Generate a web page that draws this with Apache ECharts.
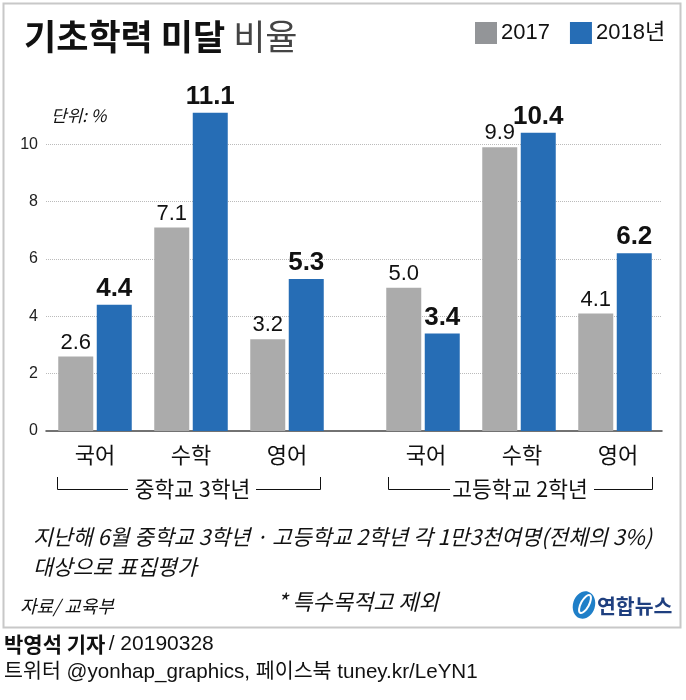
<!DOCTYPE html>
<html>
<head>
<meta charset="utf-8">
<style>
    html, body { margin: 0; padding: 0; background: #fff; }
    #chart { width: 686px; height: 700px; }
</style>
<script src="https://cdn.jsdelivr.net/npm/echarts@6/dist/echarts.min.js"></script>
</head>
<body>
<div id="chart"></div>
<script>
// 데이터
var subjects = ['국어', '수학', '영어'];
var middle2017 = [2.6, 7.1, 3.2];
var middle2018 = [4.4, 11.1, 5.3];
var high2017 = [5.0, 9.9, 4.1];
var high2018 = [3.4, 10.4, 6.2];
var name2017 = '2017';
var name2018 = '2018년';
var middleName = '중학교 3학년';
var highName = '고등학교 2학년';
var unitText = '단위: %';
var noteLine1 = '지난해 6월 중학교 3학년 · 고등학교 2학년 각 1만3천여명(전체의 3%)';
var noteLine2 = '대상으로 표집평가';
var sourceText = '자료/ 교육부';
var exceptText = '* 특수목적고 제외';
var logoText = '연합뉴스';

var KR = '"Noto Sans CJK KR"';
var NUM = '"Liberation Sans", ' + KR;
var gray = '#ababab';
var blue = '#266db5';

var myChart = echarts.init(document.getElementById('chart'));

// 막대 시리즈 (2017은 가는 글씨, 2018은 굵은 글씨)
function barSeries(name, data, idx, color, bold) {
    return {
        name: name,
        type: 'bar',
        xAxisIndex: idx,
        yAxisIndex: idx,
        data: data,
        barWidth: 35,
        barGap: '10%',
        itemStyle: { color: color },
        label: {
            show: true,
            position: 'top',
            distance: bold ? 3 : 3,
            formatter: function (p) { return p.value.toFixed(1); },
            fontFamily: NUM,
            fontSize: bold ? 26 : 22,
            fontWeight: bold ? 'bold' : 'normal',
            color: '#111'
        }
    };
}

function barYAxis(idx) {
    return {
        gridIndex: idx, type: 'value', min: 0, max: 12, interval: 2, show: false
    };
}

function barXAxis(idx, shift) {
    return {
        gridIndex: idx,
        type: 'category',
        data: subjects,
        axisLine: { show: false },
        axisTick: { show: false },
        axisLabel: {
            margin: 13,
            padding: [0, 0, 0, shift],
            fontFamily: KR,
            fontSize: 22,
            color: '#111'
        }
    };
}

// 묶음 괄호
function bracket(x1, x2, textX1, textX2) {
    return [
        {
            type: 'polyline',
            shape: { points: [[x1, 477], [x1, 489.5], [textX1, 489.5]] },
            style: { stroke: '#111', lineWidth: 1, fill: null }
        },
        {
            type: 'polyline',
            shape: { points: [[textX2, 489.5], [x2, 489.5], [x2, 477]] },
            style: { stroke: '#111', lineWidth: 1, fill: null }
        }
    ];
}

function txt(x, y, text, size, extra) {
    var s = {
        x: x, y: y, text: text,
        fontFamily: KR, fontSize: size, fill: '#111',
        textVerticalAlign: 'middle'
    };
    for (var k in extra) { s[k] = extra[k]; }
    return { type: 'text', style: s };
}

var graphics = [
    {
        type: 'rect',
        shape: { x: 3.5, y: 3.5, width: 677, height: 624 },
        style: { fill: null, stroke: '#c8c8c8', lineWidth: 2 }
    },
    txt(51, 116, unitText, 17, { fontStyle: 'italic' }),
    txt(192.5, 489, middleName, 21.5, { textAlign: 'center' }),
    txt(520, 489, highName, 21.5, { textAlign: 'center' }),
    txt(33, 537, noteLine1, 21.6, { fontStyle: 'italic' }),
    txt(33, 567, noteLine2, 21.6, { fontStyle: 'italic' }),
    txt(20, 606, sourceText, 18, { fontStyle: 'italic' }),
    txt(277, 602, exceptText, 22, { fontStyle: 'italic' }),
    // 연합뉴스 로고
    {
        type: 'ellipse',
        shape: { cx: 584, cy: 605, rx: 11, ry: 14 },
        rotation: -0.3,
        originX: 584,
        originY: 605,
        style: { fill: '#1f7fc8' }
    },
    {
        type: 'ellipse',
        shape: { cx: 585, cy: 604, rx: 4, ry: 10 },
        rotation: -0.5,
        originX: 585,
        originY: 604,
        style: { fill: null, stroke: '#fff', lineWidth: 2 }
    },
    txt(597, 606, logoText, 20.5, { fontWeight: 'bold', fill: '#1f3f7f' }),
    // 하단 크레딧
    {
        type: 'text',
        style: {
            x: 4, y: 644, textVerticalAlign: 'middle',
            text: '{b|박영석 기자} {n|/ 20190328}',
            rich: {
                b: { fontFamily: KR, fontSize: 21, fontWeight: 'bold', fill: '#111' },
                n: { fontFamily: NUM, fontSize: 21, fill: '#111' }
            }
        }
    },
    txt(4, 672, '트위터 @yonhap_graphics, 페이스북 tuney.kr/LeYN1', 20.6, { fontFamily: NUM })
];
graphics = graphics.concat(bracket(57.5, 320.5, 128, 256), bracket(388.5, 652.5, 450, 594));

var option = {
    animation: false,
    backgroundColor: '#fff',
    title: {
        left: 19,
        top: 14,
        text: '{b|기초학력 미달} {l|비율}',
        textStyle: {
            rich: {
                b: { fontFamily: KR, fontSize: 35, fontWeight: 'bold', color: '#111' },
                l: { fontFamily: KR, fontSize: 35, fontWeight: 'normal', color: '#444', padding: [0, 0, 0, 3] }
            }
        }
    },
    legend: {
        left: 475,
        top: 22,
        itemWidth: 22,
        itemHeight: 22,
        itemGap: 20,
        padding: 0,
        icon: 'rect',
        textStyle: { fontFamily: NUM, fontSize: 22, color: '#111', padding: [0, 0, 0, -1] },
        data: [
            { name: name2017, itemStyle: { color: '#939598' } },
            { name: name2018, itemStyle: { color: blue } }
        ]
    },
    // 0: 눈금선과 축선, 1: 중학교, 2: 고등학교
    grid: [
        { left: 46, width: 616, top: 87, height: 344 },
        { left: 47, width: 288, top: 87, height: 344 },
        { left: 375, width: 288, top: 87, height: 344 }
    ],
    xAxis: [
        {
            gridIndex: 0,
            type: 'value',
            min: 0,
            max: 1,
            splitLine: { show: false },
            axisTick: { show: false },
            axisLabel: { show: false },
            axisLine: { show: true, onZero: false, lineStyle: { color: '#444', width: 1.5 } }
        },
        barXAxis(1, 0),
        barXAxis(2, 6)
    ],
    yAxis: [
        {
            gridIndex: 0,
            type: 'value',
            min: 0,
            max: 12,
            interval: 2,
            axisLine: { show: false },
            axisTick: { show: false },
            axisLabel: {
                showMaxLabel: false,
                margin: 8,
                fontFamily: NUM,
                fontSize: 16,
                color: '#222'
            },
            splitLine: {
                show: true,
                showMaxLine: false,
                showMinLine: false,
                lineStyle: { type: 'dotted', color: '#bbb', width: 1 }
            }
        },
        barYAxis(1),
        barYAxis(2)
    ],
    series: [
        barSeries(name2017, middle2017, 1, gray, false),
        barSeries(name2018, middle2018, 1, blue, true),
        barSeries(name2017, high2017, 2, gray, false),
        barSeries(name2018, high2018, 2, blue, true)
    ],
    graphic: { elements: graphics }
};
myChart.setOption(option);
</script>
</body>
</html>
